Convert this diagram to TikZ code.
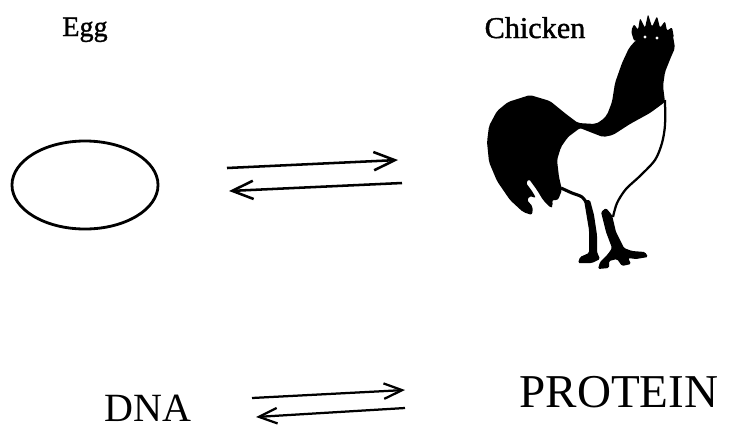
\documentclass[tikz,border=0pt]{standalone}
\usepackage{fontspec}
\setmainfont{Liberation Serif}
\newfontfamily\heavyserif{Liberation Serif}[FakeBold=1.2]
\usetikzlibrary{arrows.meta}
\def\eggoutline{(85,185) ellipse [x radius=1.825cm, y radius=1.1cm]}
\def\roosterdark{(532,215) -- (523,212) -- (510,200) -- (497,181) -- (489,162) -- (487,142) -- (489,126) -- (497,111) -- (508,102) -- (530,95) -- (550,101) -- (566,114) -- (578,123) -- (595,124) -- (601,121) -- (607,115) -- (612,102) -- (615,83) -- (622,63) -- (629,48) -- (636,40) -- (673,36) -- (675,48) -- (671,57) -- (665,72) -- (663,86) -- (665,102) -- (650,113) -- (630,124) -- (613,135) -- (603,137) -- (590,132) -- (580,128) -- (568,137) -- (561,147) -- (557,160) -- (559,177) -- (562,190) -- (558,200) -- (552,200) -- (553,206) -- (551,208) -- (543,200) -- (537,190) -- (529,179) -- (526,183) -- (532,191) -- (536,198) -- (530,196) -- (527,200) -- (533,207) -- cycle}
\def\roostercomb{(634,41) -- (631,31) -- (634,24) -- (638,30) -- (640,18) -- (645,28) -- (648,14) -- (652,27) -- (657,16) -- (660,28) -- (665,21) -- (667,31) -- (672,27) -- (674,38) -- cycle}

\tikzset{
  smalltext/.style={inner sep=0pt, anchor=base, font=\heavyserif\fontsize{20pt}{22pt}\selectfont},
  bigtext/.style={inner sep=0pt, anchor=base},
  swap/.style={line width=1.8pt, -{Straight Barb[length=15pt,width=13pt,line width=1.8pt]}},
  swapsmall/.style={line width=1.6pt, -{Straight Barb[length=13pt,width=11pt,line width=1.6pt]}},
}

\begin{document}
\begin{tikzpicture}[x=0.025cm, y=-0.025cm]
        \useasboundingbox (0,0) rectangle (744,430);

        \node[smalltext] (egg) at (85,36) {Egg};
        \node[smalltext, font=\heavyserif\fontsize{21.5pt}{24pt}\selectfont] (chicken) at (535,38) {Chicken};
        \node[bigtext, font=\fontsize{28.5pt}{30pt}\selectfont] (dna) at (148,421) {DNA};
        \node[bigtext, font=\fontsize{33.5pt}{36pt}\selectfont] (protein) at (619,407) {PROTEIN};

        \draw[line width=2pt] \eggoutline;

        \begin{scope}[rounded corners=1.5]
            \fill \roosterdark;
            \fill \roostercomb;
        \end{scope}
        \fill[white] (645,37) circle (0.04cm) (657,38) circle (0.04cm);

        \draw[line width=1.6pt] plot[smooth] coordinates {(665,100) (665,125) (662,143) (655,160) (640,176) (626,189) (617,203) (613,217)};
        \draw[line width=2.2pt] plot[smooth] coordinates {(561,188) (572,193) (582,197) (588,205)};

        \begin{scope}[rounded corners=1]
            \fill (584,200) -- (590,200) -- (594,215) -- (597,235) -- (597,252) -- (600,259) -- (592,263) -- (578,263) -- (580,257) -- (589,253) -- (589,230) -- (586,212) -- cycle;
            \fill (601,212) -- (606,208) -- (612,215) -- (616,232) -- (624,248) -- (632,251) -- (645,252) -- (648,257) -- (636,259) -- (628,258) -- (631,264) -- (622,266) -- (617,259) -- (609,261) -- (609,268) -- (598,269) -- (600,262) -- (608,254) -- (612,248) -- (606,232) -- (603,220) -- cycle;
        \end{scope}

        \coordinate (ec1) at (227,168);
        \coordinate (ce1) at (398,160);
        \coordinate (ce2) at (402,183);
        \coordinate (ec2) at (229,191);
        \coordinate (dp1) at (252,398);
        \coordinate (pd1) at (405,390);
        \coordinate (pd2) at (405,408);
        \coordinate (dp2) at (256,417);

        \draw[swap] (ec1) -- (ce1);
        \draw[swap] (ce2) -- (ec2);
        \draw[swapsmall] (dp1) -- (pd1);
        \draw[swapsmall] (pd2) -- (dp2);
    \end{tikzpicture}
\end{document}
